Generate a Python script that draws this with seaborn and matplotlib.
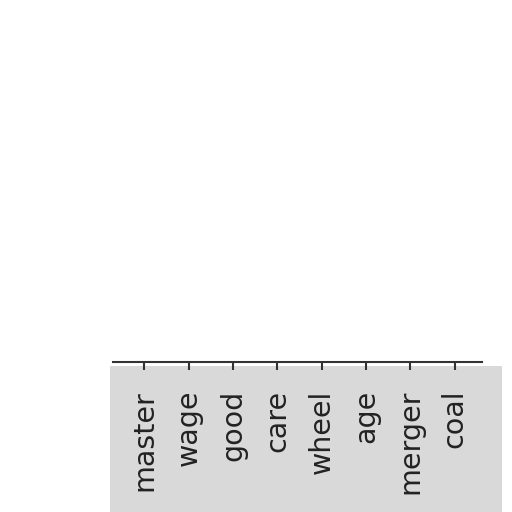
import matplotlib
matplotlib.use("Agg")
import matplotlib.pyplot as plt
import seaborn as sns
from matplotlib.patches import Rectangle

words = ["master", "wage", "good", "care", "wheel", "age", "merger", "coal"]
counts = [0, 0, 0, 0, 0, 0, 0, 0]

sns.set_theme(style="white")
plt.rcParams['font.family'] = ['DejaVu Sans']

fig = plt.figure(figsize=(5.12, 5.12), dpi=100)
ax = fig.add_axes([0.221, 0.293, 0.72, 0.65])
ax.patch.set_alpha(0)

# grey band behind the tick labels
ax.add_patch(Rectangle((0.215, 0.0), 0.765, 0.285, transform=fig.transFigure,
                       facecolor="#d9d9d9", edgecolor="none", zorder=-5, clip_on=False))

sns.barplot(x=words, y=counts, color="#4c72b0", ax=ax)
ax.set_xlim(-0.7, 7.61)
ax.set_ylim(0, 1)
ax.set_yticks([])
ax.set_xlabel("")
ax.set_ylabel("")
sns.despine(ax=ax, left=True)
ax.spines["bottom"].set_color("#333333")
ax.spines["bottom"].set_linewidth(1.5)
ax.tick_params(axis="x", bottom=True, direction="out", length=6, width=1.5, color="#333333",
               labelsize=20.5, labelrotation=90, pad=14, labelcolor="#222222")

fig.savefig("out.png", dpi=100)
